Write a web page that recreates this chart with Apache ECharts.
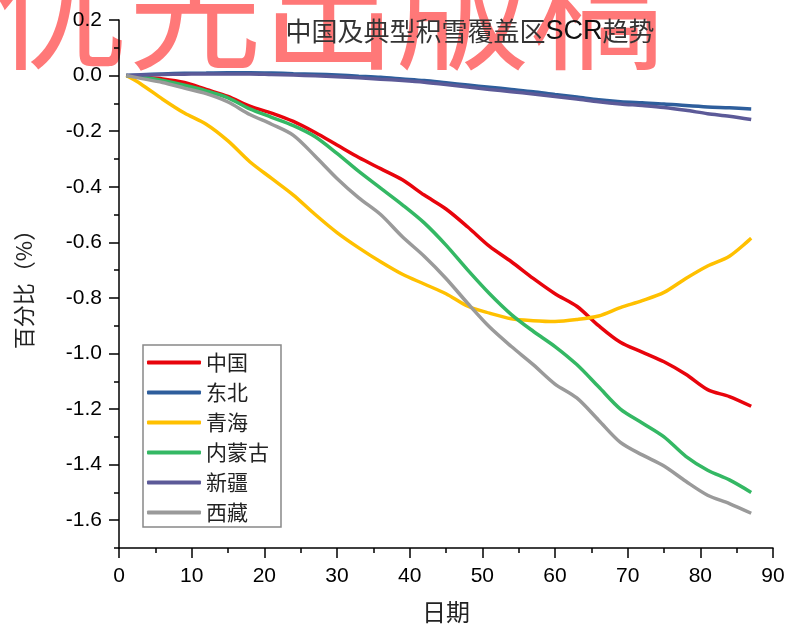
<!DOCTYPE html>
<html>
<head>
<meta charset="utf-8">
<script src="https://cdn.jsdelivr.net/npm/echarts@6/dist/echarts.min.js"></script>
<style>
 html, body { margin: 0; padding: 0; background: #fff; }
 #main { width: 788px; height: 630px; }
</style>
</head>
<body>
<div id="main"></div>
<script>
 // 日期
 var days = [1, 3, 6, 9, 12, 15, 18, 21, 24, 27, 30, 33, 36, 39, 42, 45, 48, 51, 54, 57, 60, 63, 66, 69, 72, 75, 78, 81, 84, 87];
 var names = ['中国', '东北', '青海', '内蒙古', '新疆', '西藏'];
 var colors = ['#E8040C', '#2E5E9C', '#FFC000', '#34B864', '#5C5A98', '#9A9A9A'];

 var china = [0, -0.005, -0.012, -0.025, -0.05, -0.075, -0.11, -0.135, -0.165, -0.205, -0.25, -0.295, -0.335, -0.375, -0.43, -0.48, -0.545, -0.615, -0.67, -0.73, -0.785, -0.83, -0.9, -0.96, -0.995, -1.03, -1.075, -1.13, -1.155, -1.19];
 var dongbei = [0, 0.003, 0.006, 0.008, 0.009, 0.01, 0.01, 0.009, 0.007, 0.005, 0.002, -0.002, -0.006, -0.012, -0.018, -0.026, -0.034, -0.042, -0.05, -0.058, -0.068, -0.077, -0.087, -0.094, -0.098, -0.102, -0.108, -0.113, -0.116, -0.12];
 var qinghai = [0, -0.03, -0.085, -0.135, -0.175, -0.235, -0.31, -0.37, -0.43, -0.5, -0.565, -0.62, -0.67, -0.715, -0.75, -0.785, -0.83, -0.855, -0.875, -0.882, -0.885, -0.878, -0.865, -0.835, -0.81, -0.78, -0.73, -0.685, -0.65, -0.585];
 var neimenggu = [0, -0.005, -0.018, -0.035, -0.055, -0.08, -0.12, -0.15, -0.18, -0.22, -0.28, -0.345, -0.405, -0.465, -0.53, -0.61, -0.7, -0.785, -0.86, -0.92, -0.975, -1.04, -1.12, -1.2, -1.25, -1.3, -1.37, -1.42, -1.455, -1.5];
 var xinjiang = [0, 0.002, 0.004, 0.005, 0.006, 0.006, 0.006, 0.004, 0.002, -0.001, -0.004, -0.008, -0.013, -0.018, -0.024, -0.032, -0.041, -0.05, -0.058, -0.066, -0.075, -0.084, -0.094, -0.102, -0.108, -0.115, -0.125, -0.137, -0.146, -0.158];
 var xizang = [0, -0.01, -0.025, -0.045, -0.065, -0.095, -0.14, -0.175, -0.215, -0.29, -0.37, -0.44, -0.5, -0.58, -0.65, -0.73, -0.82, -0.905, -0.975, -1.04, -1.11, -1.16, -1.24, -1.32, -1.365, -1.405, -1.46, -1.51, -1.54, -1.575];

 var yMajor = [-1.6, -1.4, -1.2, -1.0, -0.8, -0.6, -0.4, -0.2, 0, 0.2];
 var yMinor = [-1.7, -1.5, -1.3, -1.1, -0.9, -0.7, -0.5, -0.3, -0.1, 0.1];

 var allData = [china, dongbei, qinghai, neimenggu, xinjiang, xizang];

 function makeSeries() {
   var list = [];
   for (var i = 0; i < names.length; i++) {
     var pts = [];
     for (var j = 0; j < days.length; j++) {
       pts.push([days[j], allData[i][j]]);
     }
     list.push({
       name: names[i],
       type: 'line',
       data: pts,
       showSymbol: false,
       symbol: 'none',
       smooth: 0.3,
       lineStyle: { color: colors[i], width: 3.5 },
       itemStyle: { color: colors[i] }
     });
   }
   return list;
 }

 var cjk = '"Noto Sans CJK SC", sans-serif';
 var num = '"Liberation Sans", Arial, sans-serif';

 var option = {
   animation: false,
   backgroundColor: '#fff',
   title: {
     text: '{a|中国及典型积雪覆盖区}{b|SCR}{a|趋势}',
     left: 465,
     textAlign: 'center',
     top: 13,
     textStyle: {
       fontWeight: 'normal',
       rich: {
         a: { color: '#333', fontSize: 26, fontWeight: 'normal', fontFamily: cjk },   // 中文
         b: { color: '#111', fontSize: 27, fontWeight: 'normal', fontFamily: num }    // SCR
       }
     }
   },
   graphic: [{
     type: 'text',
     z: -1,
     left: -6,
     top: -59,
     style: {
       text: '优先出版稿',
       fill: '#FF7878',
       font: '134px ' + cjk
     }
   }],
   legend: {
     orient: 'vertical',
     left: 143,
     top: 345,
     padding: [7, 12, 4, 4],
     itemGap: 9,
     itemWidth: 54,
     itemHeight: 4,
     icon: 'roundRect',
     borderColor: '#888',
     borderWidth: 1.5,
     textStyle: { fontSize: 21, color: '#222', fontFamily: cjk },
     data: names
   },
   grid: { left: 119, right: 15, top: 20, bottom: 82 },
   xAxis: {
     type: 'value',
     min: 0,
     max: 90,
     interval: 10,
     name: '日期',
     nameLocation: 'middle',
     nameGap: 52,
     nameTextStyle: { fontSize: 24, color: '#222', fontFamily: cjk },
     axisLine: { onZero: false, lineStyle: { color: '#000', width: 1.5 } },
     axisTick: { length: 10, lineStyle: { color: '#000', width: 1.5 } },
     minorTick: { show: true, splitNumber: 2, length: 5, lineStyle: { color: '#000', width: 1.5 } },
     axisLabel: { fontSize: 21, color: '#000', margin: 18, fontFamily: num },
     splitLine: { show: false }
   },
   yAxis: [{
     type: 'value',
     min: -1.7,
     max: 0.2,
     name: '百分比（%）',
     nameLocation: 'middle',
     nameGap: 84,
     nameTextStyle: { fontSize: 22, color: '#222', fontFamily: cjk },
     axisLine: { show: true, lineStyle: { color: '#000', width: 1.5 } },
     axisTick: { show: true, length: 10, customValues: yMajor, lineStyle: { color: '#000', width: 1.5 } },
     axisLabel: {
       fontSize: 21, color: '#000', margin: 17, fontFamily: num,
       customValues: yMajor,
       formatter: function (v) { return v.toFixed(1); }
     },
     splitLine: { show: false }
   }, {
     type: 'value',
     min: -1.7,
     max: 0.2,
     position: 'left',
     axisLine: { show: false },
     axisTick: { show: true, length: 5, customValues: yMinor, lineStyle: { color: '#000', width: 1.5 } },
     axisLabel: { show: false },
     splitLine: { show: false }
   }],
   series: makeSeries()
 };

 var myChart = echarts.init(document.getElementById('main'));
 myChart.setOption(option);
</script>
</body>
</html>
